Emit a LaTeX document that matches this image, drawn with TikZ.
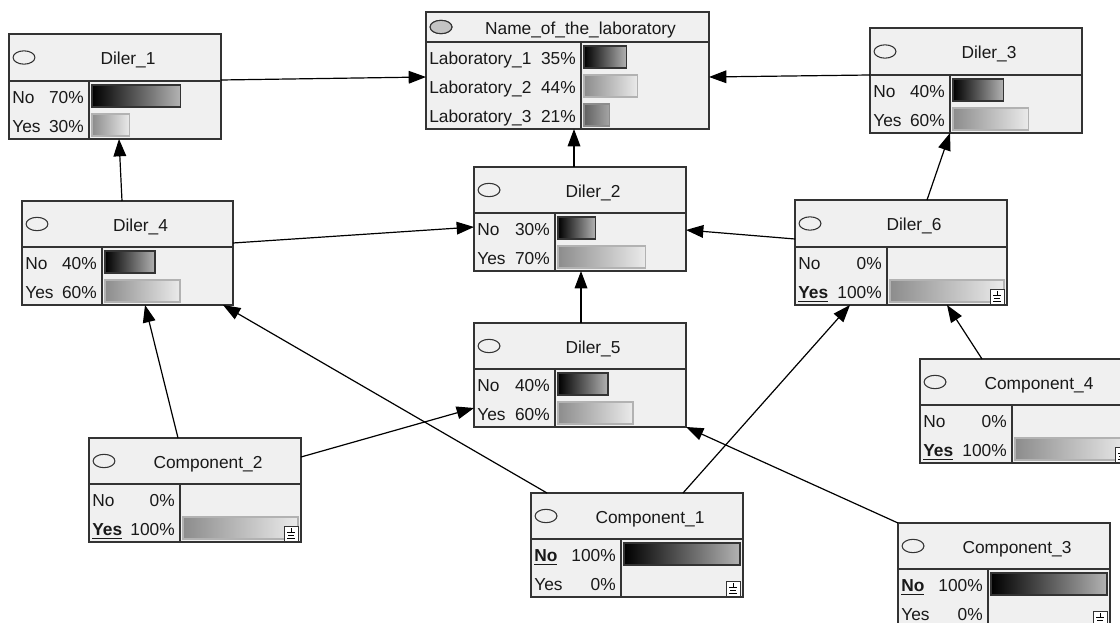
\documentclass[tikz,border=0pt]{standalone}
\usepackage{fontspec}
\setmainfont{Liberation Sans}
\usetikzlibrary{calc,arrows.meta}

\definecolor{boxgray}{HTML}{F0F0F0}
\definecolor{ovalgray}{HTML}{C4C4C4}

\tikzset{
  bnframe/.style={draw=black!80, fill=boxgray, line width=1pt, inner sep=0pt, outer sep=0pt},
  bnrule/.style={draw=black!80, line width=1pt},
  bnoval/.style={draw=black!80, line width=0.8pt},
  bntext/.style={text=black!90, inner sep=0pt, text height=9.4pt, text depth=0pt},
  bara/.style={draw=black!80, line width=0.8pt, left color=black, right color=black!30},
  barb/.style={draw=black!30, line width=0.8pt, left color=black!45, right color=black!8},
  barc/.style={draw=black!45, line width=0.8pt, left color=black!62, right color=black!35},
  evbox/.style={draw=black!80, fill=white, line width=0.6pt},
  link/.style={draw=black, line width=0.9pt, -{Triangle[length=13pt,width=9.5pt]}}
}

% node frame: name, corner, width, header, rows, divider, title
\newcommand{\bnnode}[7]{%
  \node[bnframe, anchor=north west, minimum width=#3*0.75pt,
        minimum height={(#4+29*#5)*0.75pt}] (#1) at (#2) {};
  \draw[bnrule] ($(#1.north west)+(0,#4)$) -- ($(#1.north east)+(0,#4)$);
  \draw[bnrule] ($(#1.north west)+(#6,#4)$) -- ($(#1.south west)+(#6,0)$);
  \draw[bnoval] ($(#1.north west)+(15,#4/2)$) ellipse [x radius=8.2pt, y radius=5pt];
  \node[bntext] at ($(#1.north west)!0.5!(#1.north east)+(13,#4/2+1)$) {#7};
  \coordinate (#1-lbl) at ($(#1.north west)+(3,#4)$);
  \coordinate (#1-pct) at ($(#1.north west)+(#6-5,#4)$);
  \coordinate (#1-bar0) at ($(#1.north west)+(#6+3,#4)$);
  \coordinate (#1-bar1) at ($(#1.north east)+(-3,#4)$);
}
% state row: node, row, label, percent
\newcommand{\bnstate}[4]{%
  \node[bntext, anchor=west] at ($(#1-lbl)+(0,29*#2+16.5)$) {#3};
  \node[bntext, anchor=east] at ($(#1-pct)+(0,29*#2+16.5)$) {#4};
}
% probability bar: node, row, fraction, style
\newcommand{\bnbar}[4]{%
  \path[#4] ($(#1-bar0)+(0,29*#2+4)$) rectangle ($(#1-bar0)!#3!(#1-bar1)+(0,29*#2+26)$);
}
% evidence mark in the lower right corner
\newcommand{\bnevidence}[1]{%
  \begin{scope}[shift={($(#1.south east)+(-17,-16)$)}]
    \draw[evbox] (0,0) rectangle (14,15);
    \draw[line width=0.5pt] (7,2) -- (7,6) (3,6) -- (11,6) (4,9) -- (10,9) (3,12) -- (11,12);
  \end{scope}
}

\begin{document}
\begin{tikzpicture}[x=0.75pt, y=-0.75pt, font=\fontsize{13}{15}\selectfont]
  \useasboundingbox (0,0) rectangle (1120,623);
  \clip (0,0) rectangle (1120,623);
  \fill[white] (0,0) rectangle (1120,623);

  \bnnode{d1}{9,34}{212}{47}{2}{80}{Diler\_1}
  \bnstate{d1}{0}{No}{70\%}  \bnbar{d1}{0}{0.70}{bara}
  \bnstate{d1}{1}{Yes}{30\%} \bnbar{d1}{1}{0.30}{barb}

  \bnnode{lab}{426,12}{283}{30}{3}{155}{Name\_of\_the\_laboratory}
  \draw[bnoval, fill=ovalgray] ($(lab.north west)+(15,15)$) ellipse [x radius=8.2pt, y radius=5pt];
  \bnstate{lab}{0}{Laboratory\_1}{35\%} \bnbar{lab}{0}{0.35}{bara}
  \bnstate{lab}{1}{Laboratory\_2}{44\%} \bnbar{lab}{1}{0.44}{barb}
  \bnstate{lab}{2}{Laboratory\_3}{21\%} \bnbar{lab}{2}{0.21}{barc}

  \bnnode{d3}{870,28}{212}{47}{2}{80}{Diler\_3}
  \bnstate{d3}{0}{No}{40\%}  \bnbar{d3}{0}{0.40}{bara}
  \bnstate{d3}{1}{Yes}{60\%} \bnbar{d3}{1}{0.60}{barb}

  \bnnode{d4}{22,201}{211}{46}{2}{80}{Diler\_4}
  \bnstate{d4}{0}{No}{40\%}  \bnbar{d4}{0}{0.40}{bara}
  \bnstate{d4}{1}{Yes}{60\%} \bnbar{d4}{1}{0.60}{barb}

  \bnnode{d2}{474,167}{212}{46}{2}{81}{Diler\_2}
  \bnstate{d2}{0}{No}{30\%}  \bnbar{d2}{0}{0.30}{bara}
  \bnstate{d2}{1}{Yes}{70\%} \bnbar{d2}{1}{0.70}{barb}

  \bnnode{d5}{474,323}{212}{46}{2}{81}{Diler\_5}
  \bnstate{d5}{0}{No}{40\%}  \bnbar{d5}{0}{0.40}{bara}
  \bnstate{d5}{1}{Yes}{60\%} \bnbar{d5}{1}{0.60}{barb}

  \bnnode{d6}{795,200}{212}{47}{2}{92}{Diler\_6}
  \bnstate{d6}{0}{No}{0\%}
  \bnstate{d6}{1}{\underline{\textbf{Yes}}}{100\%} \bnbar{d6}{1}{1}{barb}
  \bnevidence{d6}

  \bnnode{c2}{89,438}{212}{46}{2}{91}{Component\_2}
  \bnstate{c2}{0}{No}{0\%}
  \bnstate{c2}{1}{\underline{\textbf{Yes}}}{100\%} \bnbar{c2}{1}{1}{barb}
  \bnevidence{c2}

  \bnnode{c1}{531,493}{212}{46}{2}{90}{Component\_1}
  \bnstate{c1}{0}{\underline{\textbf{No}}}{100\%} \bnbar{c1}{0}{1}{bara}
  \bnstate{c1}{1}{Yes}{0\%}
  \bnevidence{c1}

  \bnnode{c4}{920,359}{212}{46}{2}{92}{Component\_4}
  \bnstate{c4}{0}{No}{0\%}
  \bnstate{c4}{1}{\underline{\textbf{Yes}}}{100\%} \bnbar{c4}{1}{1}{barb}
  \bnevidence{c4}

  \bnnode{c3}{898,523}{212}{46}{2}{90}{Component\_3}
  \bnstate{c3}{0}{\underline{\textbf{No}}}{100\%} \bnbar{c3}{0}{1}{bara}
  \bnstate{c3}{1}{Yes}{0\%}
  \bnevidence{c3}

  % arcs
  \draw[link] ($(d1.north east)+(0,46)$) -- ($(lab.north west)+(0,65)$);
  \draw[link] ($(d3.north west)+(0,47)$) -- ($(lab.north east)+(0,65)$);
  \draw[link] ($(d2.north west)+(100,0)$) -- ($(lab.south west)+(148,0)$);
  \draw[link] ($(d4.north west)+(100,0)$) -- ($(d1.south west)+(110,0)$);
  \draw[link] ($(d4.north east)+(0,42)$) -- ($(d2.north west)+(0,60)$);
  \draw[link] ($(d6.north west)+(0,39)$) -- ($(d2.north east)+(0,63)$);
  \draw[link] ($(d6.north west)+(132,0)$) -- ($(d3.south west)+(80,0)$);
  \draw[link] ($(d5.north west)+(107,0)$) -- ($(d2.south west)+(107,0)$);
  \draw[link] ($(c2.north west)+(89,0)$) -- ($(d4.south west)+(123,0)$);
  \draw[link] ($(c2.north east)+(0,19)$) -- ($(d5.north west)+(0,85)$);
  \draw[link] ($(c1.north west)+(16,0)$) -- ($(d4.south east)+(-10,0)$);
  \draw[link] ($(c1.north west)+(152,0)$) -- ($(d6.south west)+(55,0)$);
  \draw[link] ($(c4.north west)+(62,0)$) -- ($(d6.south west)+(152,0)$);
  \draw[link] (c3.north west) -- (d5.south east);
\end{tikzpicture}
\end{document}
